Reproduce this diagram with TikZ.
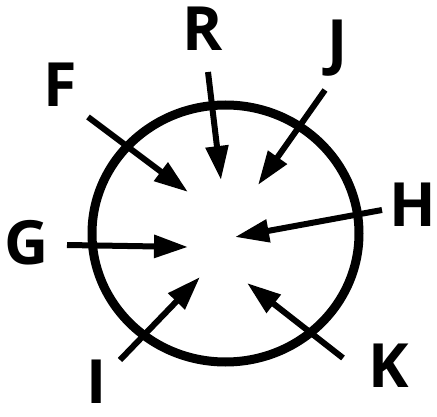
\documentclass[tikz,border=0pt]{standalone}
\usepackage{fontspec}
\setmainfont{Open Sans}
\usetikzlibrary{arrows.meta}
\tikzset{
  lbl/.style={font=\fontsize{61}{61}\selectfont\bfseries, inner sep=0pt, anchor=center},
  arr/.style={line width=6pt, -{Triangle[length=34pt,width=22pt]}},
}
\begin{document}
\begin{tikzpicture}[x=1pt,y=-1pt]
\useasboundingbox (0,0) rectangle (437,417);
\draw[line width=9pt] (225.5,233.5) ellipse [x radius=133.5, y radius=128.5];
% labels
\node[lbl] (R) at (203,29) {R};
\node[lbl] (J) at (338,48) {J};
\node[lbl] (F) at (60,85) {F};
\node[lbl] (H) at (413,205) {H};
\node[lbl] (G) at (27,243) {G};
\node[lbl] (I) at (97,382) {I};
\node[lbl] (K) at (389,366) {K};
% arrow ends
\coordinate (rs) at (208,72);  \coordinate (re) at (221,180);
\coordinate (js) at (325,90);  \coordinate (je) at (258,185);
\coordinate (fs) at (88,117);  \coordinate (fe) at (188,192);
\coordinate (hs) at (382,210); \coordinate (he) at (235,237);
\coordinate (gs) at (67,245);  \coordinate (ge) at (188,247);
\coordinate (is) at (120,360); \coordinate (ie) at (200,277);
\coordinate (ks) at (343,358); \coordinate (ke) at (247,283);
\draw[arr] (rs) -- (re);
\draw[arr] (js) -- (je);
\draw[arr] (fs) -- (fe);
\draw[arr] (hs) -- (he);
\draw[arr] (gs) -- (ge);
\draw[arr] (is) -- (ie);
\draw[arr] (ks) -- (ke);
\end{tikzpicture}
\end{document}
